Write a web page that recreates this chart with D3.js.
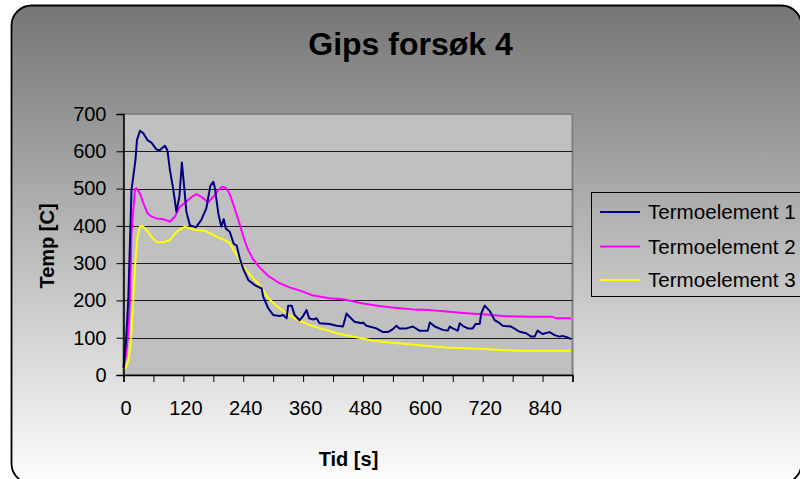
<!DOCTYPE html>
<html>
<head>
<meta charset="utf-8">
<script src="https://cdn.jsdelivr.net/npm/d3@7"></script>
<style>
  body { margin: 0; background: #fff; }
  svg { display: block; font-family: "Liberation Sans", Arial, sans-serif; }
</style>
</head>
<body>
<div id="chart"></div>
<script>
// time [s] and temperature [C]
const seriesNames = ["Termoelement 1", "Termoelement 2", "Termoelement 3"];
const seriesColors = ["#000080", "#ff00ff", "#ffff00"];

const tid1 = [0, 5, 9.6, 16, 24, 27, 33, 40, 48, 56, 66, 73, 77, 83, 88, 93, 100, 106, 112, 117, 121, 126, 133, 145, 156, 166, 174, 180, 183, 190, 196, 201, 205, 213, 221, 227, 233, 240, 250, 263, 277, 280, 290, 300, 313, 320, 327, 330, 337, 343, 353, 360, 367, 372, 380, 387, 393, 413, 427, 440, 447, 453, 463, 477, 480, 487, 507, 520, 530, 540, 547, 553, 567, 580, 593, 610, 614, 624, 640, 650, 654, 660, 670, 674, 680, 690, 700, 706, 714, 717, 724, 734, 744, 754, 760, 777, 794, 807, 817, 824, 830, 840, 854, 864, 874, 880, 890, 897];
const temp1 = [20, 90, 201, 496, 577, 630, 655, 648, 630, 623, 605, 603, 608, 615, 603, 550, 496, 438, 478, 570, 514, 438, 402, 396, 416, 447, 507, 518, 503, 434, 398, 418, 393, 384, 352, 347, 313, 285, 255, 241, 232, 210, 179, 161, 158, 161, 152, 186, 186, 161, 147, 158, 174, 152, 149, 152, 139, 137, 132, 130, 165, 156, 143, 139, 141, 132, 125, 115, 115, 123, 132, 125, 125, 130, 119, 119, 141, 130, 121, 119, 130, 125, 119, 139, 132, 125, 125, 137, 137, 165, 186, 172, 147, 139, 132, 130, 116, 112, 103, 103, 119, 110, 115, 107, 103, 105, 101, 96];

const tid2 = [0, 5, 10, 13, 16, 23, 26, 33, 40, 48, 56, 66, 80, 93, 103, 113, 126, 136, 146, 156, 170, 180, 190, 198, 206, 213, 220, 228, 235, 243, 250, 260, 273, 290, 313, 333, 357, 380, 413, 440, 480, 513, 547, 580, 614, 647, 694, 720, 760, 814, 860, 867, 897];
const temp2 = [20, 50, 120, 201, 380, 498, 501, 487, 460, 434, 425, 420, 418, 411, 425, 451, 465, 477, 485, 478, 463, 478, 496, 505, 501, 485, 458, 425, 395, 360, 335, 310, 288, 266, 246, 235, 225, 213, 206, 203, 192, 185, 180, 176, 174, 170, 165, 163, 158, 156, 156, 152, 152];

const tid3 = [0, 5, 10, 15, 19.6, 24, 28, 33, 38, 46, 56, 66, 80, 93, 106, 123, 133, 146, 163, 180, 193, 206, 213, 227, 240, 253, 270, 280, 290, 307, 327, 347, 373, 400, 433, 480, 500, 533, 593, 647, 720, 787, 897];
const temp3 = [15, 20, 40, 90, 201, 308, 371, 398, 400, 389, 371, 357, 356, 362, 384, 398, 393, 389, 387, 375, 367, 360, 353, 322, 292, 270, 245, 228, 206, 185, 165, 149, 134, 123, 110, 98, 92, 87, 80, 74, 70, 65, 65];

const yTicks = [0, 100, 200, 300, 400, 500, 600, 700];
const xLabels = [0, 120, 240, 360, 480, 600, 720, 840];
const xTickMarks = d3.range(0, 901, 60);

const width = 800;
const height = 479;
const plot = { left: 123.5, right: 572.5, top: 114, bottom: 375 };

const svg = d3.select("#chart")
  .append("svg")
  .attr("width", width)
  .attr("height", height);

const defs = svg.append("defs");
const grad = defs.append("linearGradient")
  .attr("id", "bg")
  .attr("x1", 0).attr("y1", 0)
  .attr("x2", 0).attr("y2", 1);
grad.append("stop").attr("offset", "0%").attr("stop-color", "#767676");
grad.append("stop").attr("offset", "100%").attr("stop-color", "#fdfdfd");

// chart area with rounded corners
svg.append("rect")
  .attr("x", 11.5).attr("y", 5.5)
  .attr("width", 790).attr("height", 478)
  .attr("rx", 20).attr("ry", 20)
  .attr("fill", "url(#bg)")
  .attr("stroke", "#000")
  .attr("stroke-width", 1.8);

svg.append("text")
  .attr("x", 410.5).attr("y", 55)
  .attr("text-anchor", "middle")
  .attr("font-size", 32)
  .attr("font-weight", "bold")
  .text("Gips forsøk 4");

const xScale = d3.scaleLinear().domain([0, 900]).range([plot.left, plot.right]);
const yScale = d3.scaleLinear().domain([0, 700]).range([plot.bottom, plot.top]);

// plot area
svg.append("rect")
  .attr("x", plot.left).attr("y", plot.top)
  .attr("width", plot.right - plot.left)
  .attr("height", plot.bottom - plot.top)
  .attr("fill", "#c0c0c0")
  .attr("stroke", "#808080")
  .attr("stroke-width", 2);

svg.append("g")
  .attr("class", "gridlines")
  .selectAll("line")
  .data(yTicks.filter((d) => d > 0 && d < 700))
  .join("line")
  .attr("x1", plot.left).attr("x2", plot.right)
  .attr("y1", (d) => Math.round(yScale(d)) + 0.5)
  .attr("y2", (d) => Math.round(yScale(d)) + 0.5)
  .attr("stroke", "#1a1a1a")
  .attr("stroke-width", 1);

// series
const series = [
  { name: seriesNames[0], color: seriesColors[0], tid: tid1, temp: temp1 },
  { name: seriesNames[1], color: seriesColors[1], tid: tid2, temp: temp2 },
  { name: seriesNames[2], color: seriesColors[2], tid: tid3, temp: temp3 },
];

const line = d3.line()
  .x((d) => xScale(d[0]))
  .y((d) => yScale(d[1]));

svg.append("g")
  .attr("class", "lines")
  .selectAll("path")
  .data(series.slice().reverse())
  .join("path")
  .attr("d", (s) => line(d3.zip(s.tid, s.temp)))
  .attr("fill", "none")
  .attr("stroke", (s) => s.color)
  .attr("stroke-width", 2)
  .attr("stroke-linejoin", "round");

// y axis
const yAxis = d3.axisLeft(yScale)
  .tickValues(yTicks)
  .tickSize(7)
  .tickPadding(10);
const gy = svg.append("g")
  .attr("transform", `translate(${plot.left},0)`)
  .call(yAxis);
gy.select(".domain").attr("stroke", "#000").attr("stroke-width", 1.5);
gy.selectAll(".tick line").attr("stroke", "#000");
gy.selectAll(".tick text")
  .attr("font-size", 20)
  .attr("font-family", null)
  .attr("fill", "#000");

// x axis
const xAxis = d3.axisBottom(xScale)
  .tickValues(xTickMarks)
  .tickSize(7)
  .tickFormat((d) => (xLabels.includes(d) ? d : ""));
const gx = svg.append("g")
  .attr("transform", `translate(0,${plot.bottom})`)
  .call(xAxis);
gx.select(".domain").attr("stroke", "#000").attr("stroke-width", 1.5);
gx.selectAll(".tick line").attr("stroke", "#000");
gx.selectAll(".tick text")
  .attr("font-size", 20)
  .attr("font-family", null)
  .attr("fill", "#000")
  .attr("dy", null)
  .attr("y", 40)
  .attr("x", 2);

svg.append("text")
  .attr("x", 348.5).attr("y", 466)
  .attr("text-anchor", "middle")
  .attr("font-size", 20)
  .attr("font-weight", "bold")
  .text("Tid [s]");

svg.append("text")
  .attr("transform", "translate(54,246) rotate(-90)")
  .attr("text-anchor", "middle")
  .attr("font-size", 20)
  .attr("font-weight", "bold")
  .text("Temp [C]");

// legend
const legend = svg.append("g").attr("class", "legend");
legend.append("rect")
  .attr("x", 591.5).attr("y", 192.5)
  .attr("width", 230).attr("height", 104)
  .attr("fill", "none")
  .attr("stroke", "#000")
  .attr("stroke-width", 1);

const rowY = [212, 246.5, 280];
const rows = legend.selectAll("g.row")
  .data(series)
  .join("g")
  .attr("class", "row")
  .attr("transform", (d, i) => `translate(0,${rowY[i]})`);
rows.append("line")
  .attr("x1", 600).attr("x2", 640)
  .attr("stroke", (d) => d.color)
  .attr("stroke-width", 2);
rows.append("text")
  .attr("x", 648).attr("y", 7)
  .attr("font-size", 20.6)
  .text((d) => d.name);
</script>
</body>
</html>
